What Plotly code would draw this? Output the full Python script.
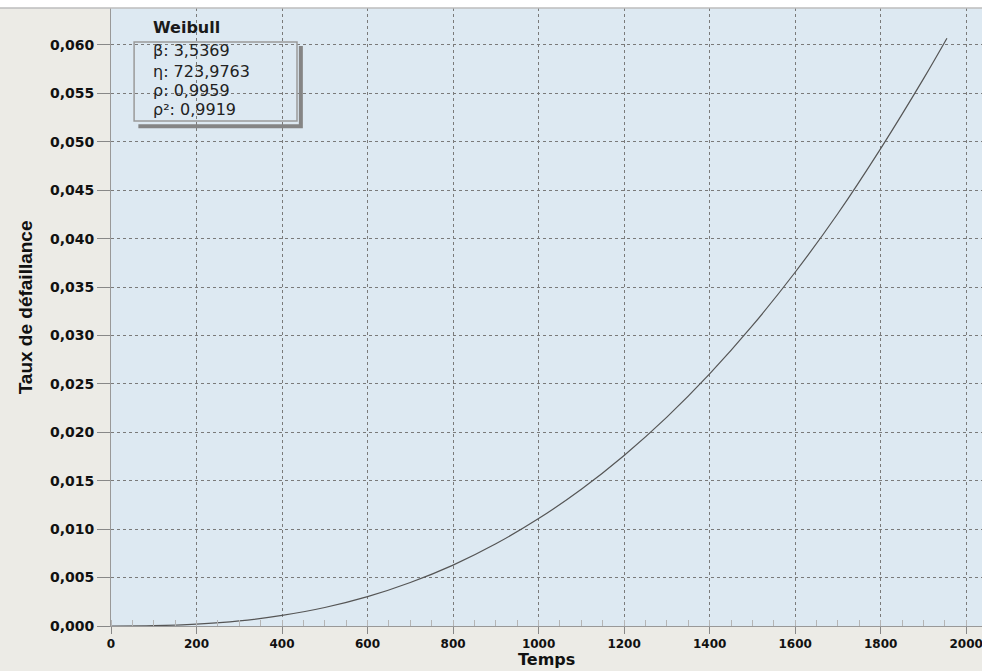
import plotly.graph_objects as go

# hazard rate
temps = [0, 100, 200, 300, 400, 500, 600, 700, 800, 900, 1000,
         1100, 1200, 1300, 1400, 1500, 1600, 1700, 1800, 1900, 1955]
taux = [0.0, 0.00003, 0.00019, 0.00052, 0.00109, 0.00191, 0.00303,
        0.00449, 0.00629, 0.00849, 0.01109, 0.01412, 0.01761, 0.02157,
        0.02603, 0.03101, 0.03653, 0.04260, 0.04930, 0.05650, 0.06070]

legend_title = 'Weibull'
legend_lines = ['β: 3,5369', 'η: 723,9763', 'ρ: 0,9959', 'ρ²: 0,9919']

PAPER = '#ecebe6'
PLOT = '#dde9f2'
GRID = '#7a7a7a'

fig = go.Figure(
    data=[
        go.Scatter(x=temps, y=taux, mode='lines', line_shape='spline',
                   line=dict(color='#555555', width=1.2), hoverinfo='skip')
    ]
)

ytick_font = dict(family='DejaVu Sans', size=14, color='#111111', weight='bold')
xtick_font = dict(family='DejaVu Sans', size=12, color='#111111', weight='bold')

fig.update_layout(
    width=982,
    height=671,
    margin=dict(l=111, r=0, t=8, b=45),
    paper_bgcolor=PAPER,
    plot_bgcolor=PLOT,
    separators=', ',
    showlegend=False,
    xaxis=dict(
        range=[0, 2037], tickmode='linear', tick0=0, dtick=200, tickformat='d',
        ticks='outside', ticklen=7, tickcolor='#888888',
        showline=True, linecolor='#999999', linewidth=1,
        showgrid=True, gridcolor=GRID, griddash='dot', gridwidth=1,
        zeroline=False, tickfont=xtick_font, automargin=False,
        ticklabeloverflow='allow',
        minor=dict(ticks='inside', ticklen=6, dtick=50, tickcolor='#b5b5b5',
                   showgrid=False),
    ),
    yaxis=dict(
        range=[0, 0.06382], tickmode='linear', tick0=0, dtick=0.005,
        tickformat='.3f', ticks='outside', ticklen=13, tickcolor='#888888',
        showline=True, linecolor='#999999', linewidth=1,
        showgrid=True, gridcolor=GRID, griddash='dot', gridwidth=1,
        zeroline=False, tickfont=ytick_font, automargin=False,
    ),
)

# white strip along the top and a soft edge under it
fig.add_shape(type='rect', xref='paper', yref='paper', x0=-0.13, x1=1.0,
              y0=1.0, y1=1.02, fillcolor='white', line_width=0, layer='above')
fig.add_shape(type='line', xref='paper', yref='paper', x0=-0.13, x1=1.0,
              y0=1.0, y1=1.0, line=dict(color='#bdbdbd', width=1.5), layer='above')

# legend box with a drop shadow
fig.add_shape(type='path', xref='x', yref='y',
              path='M 444,0.05990 L 444,0.05160 L 64,0.05160',
              line=dict(color='#858585', width=4), layer='above')
fig.add_shape(type='rect', xref='x', yref='y', x0=54, x1=435,
              y0=0.05215, y1=0.06031, line=dict(color='#9a9a9a', width=1.5),
              fillcolor='rgba(0,0,0,0)', layer='above')

fig.add_annotation(x=94, y=0.06176, xref='x', yref='y', text=legend_title,
                   showarrow=False, xanchor='left', yanchor='middle',
                   font=dict(family='DejaVu Sans', size=16, color='#1a1a1a',
                             weight='bold'))
line_y = [0.05948, 0.05731, 0.05525, 0.05329]
for txt, yy in zip(legend_lines, line_y):
    fig.add_annotation(x=94, y=yy, xref='x', yref='y', text=txt,
                       showarrow=False, xanchor='left', yanchor='middle',
                       font=dict(family='DejaVu Sans', size=16, color='#222222'))

# axis titles
fig.add_annotation(x=0.5, y=-0.0728, xref='paper', yref='paper', text='Temps',
                   showarrow=False, xanchor='center', yanchor='bottom',
                   font=dict(family='DejaVu Sans', size=16, color='#111111',
                             weight='bold'))
fig.add_annotation(x=-0.098, y=0.515, xref='paper', yref='paper',
                   text='Taux de défaillance', textangle=-90,
                   showarrow=False, xanchor='center', yanchor='middle',
                   font=dict(family='Liberation Sans', size=19, color='#111111',
                             weight='bold'))

fig.write_html('out.html', config={'displayModeBar': False},
               post_script="document.body.style.margin='0';"
                           "document.body.style.overflow='hidden';")
